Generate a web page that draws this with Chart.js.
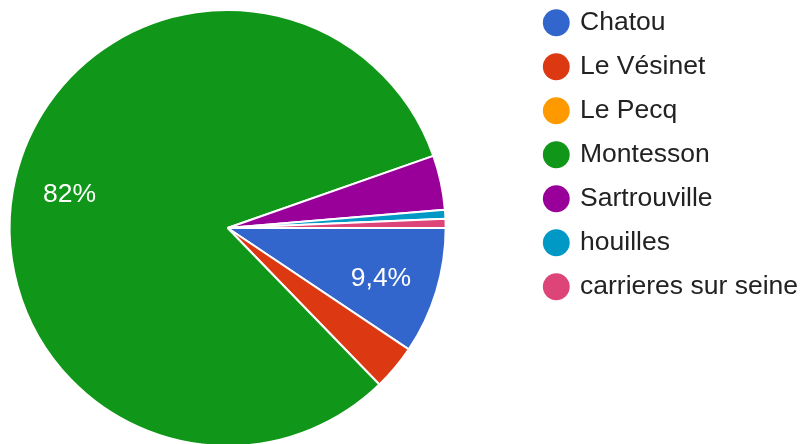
<!DOCTYPE html>
<html>
<head>
<meta charset="utf-8">
<title>Commune</title>
<script src="https://cdn.jsdelivr.net/npm/chart.js@4"></script>
<style>
  html, body { margin: 0; padding: 0; background: #ffffff; overflow: hidden; }
  #wrap { position: relative; width: 804px; height: 444px; overflow: hidden; }
  /* canvas is a bit bigger than the window so the pie sits where Google Forms puts it */
  #pie { position: absolute; left: -73px; top: -8px; }
</style>
</head>
<body>
<div id="wrap">
  <canvas id="pie" width="881" height="472"></canvas>
</div>
<script>
// ========================================
// DATA
// ========================================
const communes = ['Chatou', 'Le Vésinet', 'Le Pecq', 'Montesson', 'Sartrouville', 'houilles', 'carrieres sur seine'];
const reponses = [14, 5, 0, 122, 6, 1, 1];
const couleurs = ['#3366cc', '#dc3912', '#ff9900', '#109618', '#990099', '#0099c6', '#dd4477'];

const FONT = '"Liberation Sans", Arial, sans-serif';

// Prozent-Labels in den Segmenten (wie Google: nur wenn groß genug)
const percentLabels = {
    id: 'percentLabels',
    afterDatasetsDraw(chart) {
        const ctx = chart.ctx;
        const meta = chart.getDatasetMeta(0);
        const values = chart.data.datasets[0].data;
        const total = values.reduce((a, b) => a + b, 0);

        ctx.save();
        ctx.font = '26.5px ' + FONT;
        ctx.fillStyle = '#ffffff';
        ctx.textAlign = 'center';
        ctx.textBaseline = 'alphabetic';
        meta.data.forEach((arc, i) => {
            const share = values[i] / total;
            if (share < 0.05) return;
            const p = arc.getProps(['x', 'y', 'startAngle', 'endAngle', 'outerRadius'], true);
            const mid = (p.startAngle + p.endAngle) / 2;
            const r = p.outerRadius * 0.74;
            const text = (share * 100).toLocaleString('fr-FR', { maximumSignificantDigits: 2 }) + '%';
            // + ~Versalhöhe/2, damit die Ziffern optisch mittig sitzen
            ctx.fillText(text, p.x + Math.cos(mid) * r - 1, p.y + Math.sin(mid) * r + 11);
        });
        ctx.restore();
    }
};

const pieChart = new Chart(document.getElementById('pie'), {
    type: 'pie',
    data: {
        labels: communes,
        datasets: [{
            data: reponses,
            backgroundColor: couleurs,
            borderColor: '#ffffff',
            borderWidth: 2,
            radius: 218
        }]
    },
    options: {
        responsive: false,
        animation: false,
        rotation: 90,
        layout: { padding: 0 },
        plugins: {
            tooltip: { enabled: false },
            legend: {
                position: 'right',
                align: 'start',
                labels: {
                    usePointStyle: true,
                    pointStyle: 'circle',
                    boxWidth: 21,
                    boxHeight: 19,
                    padding: 17.5,
                    color: '#222222',
                    font: { size: 26.5, family: FONT },
                    generateLabels(chart) {
                        const items = Chart.overrides.pie.plugins.legend.labels.generateLabels(chart);
                        items.forEach(item => { item.lineWidth = 0; });
                        return items;
                    }
                }
            }
        }
    },
    plugins: [percentLabels]
});
</script>
</body>
</html>
